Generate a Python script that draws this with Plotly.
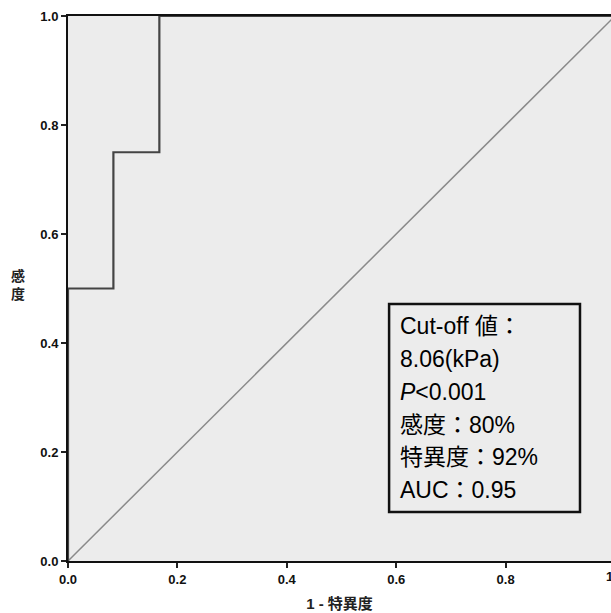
import plotly.graph_objects as go

# ROC data
fpr = [0.0, 0.0, 0.083, 0.167, 1.0]
tpr = [0.0, 0.5, 0.75, 1.0, 1.0]
ref_x = [0.0, 1.0]
ref_y = [0.0, 1.0]
tick_vals = [0.0, 0.2, 0.4, 0.6, 0.8, 1.0]
tick_text = ["0.0", "0.2", "0.4", "0.6", "0.8", "1.0"]
box_lines = ["Cut-off 値：", "8.06(kPa)", "<i>P</i>&lt;0.001", "感度：80%", "特異度：92%", "AUC：0.95"]

W, H = 611, 613
L, R, T, B = 68, 0, 16, 52
plot_w = W - L - R
unit = 547.0
xmax = plot_w / unit

font_tick = "Liberation Sans Narrow, Liberation Sans, Arial, sans-serif"
font_cjk = "Liberation Sans, Noto Sans CJK JP, sans-serif"

fig = go.Figure()
fig.add_trace(go.Scatter(x=ref_x, y=ref_y, mode="lines",
                         line=dict(color="#8a8a8a", width=1.5), hoverinfo="skip"))
fig.add_trace(go.Scatter(x=fpr, y=tpr, mode="lines", line_shape="hv",
                         line=dict(color="#444444", width=2.2), hoverinfo="skip"))

# text box
fig.add_shape(type="rect", xref="x", yref="y", x0=0.587, x1=0.936, y0=0.090, y1=0.4716,
              line=dict(color="#111111", width=2.5), fillcolor="rgba(0,0,0,0)")
line_y = [0.431, 0.371, 0.310, 0.2495, 0.191, 0.130]
for txt, yy in zip(box_lines, line_y):
    fig.add_annotation(x=0.603, y=yy, xref="x", yref="y", text=txt, showarrow=False,
                       xanchor="left", yanchor="middle",
                       font=dict(size=23, color="#000000", family=font_cjk))

bold_ticks = ["<b>%s</b>" % t for t in tick_text]

# tick label 1.0 partly off-canvas, as in the reference
fig.add_annotation(x=1.0 / xmax, y=0, xref="paper", yref="paper", yshift=-6,
                   text=bold_ticks[-1], showarrow=False, xanchor="center", yanchor="top",
                   font=dict(size=13, color="#111111", family=font_tick))

fig.update_xaxes(range=[0, xmax], tickvals=tick_vals[:-1], ticktext=bold_ticks[:-1],
                 ticks="outside", ticklen=5, tickwidth=1.5, tickcolor="#222222",
                 showline=True, linecolor="#111111", linewidth=2, mirror=True,
                 showgrid=False, zeroline=False,
                 tickfont=dict(size=13, color="#111111", family=font_tick),
                 title=dict(text="<b>1 - 特異度</b>", font=dict(size=15, color="#222222", family=font_cjk),
                            standoff=13))
fig.update_yaxes(range=[0, 1], tickvals=tick_vals, ticktext=bold_ticks,
                 ticks="outside", ticklen=5, tickwidth=1.5, tickcolor="#222222",
                 showline=True, linecolor="#111111", linewidth=2,
                 showgrid=False, zeroline=False,
                 tickfont=dict(size=13, color="#111111", family=font_tick))

fig.add_annotation(x=(18 - L) / plot_w, y=0.506, xref="paper", yref="paper", text="<b>感<br>度</b>",
                   showarrow=False, xanchor="center", yanchor="middle",
                   font=dict(size=14, color="#222222", family=font_cjk))

fig.update_layout(width=W, height=H, margin=dict(l=L, r=R, t=T, b=B, autoexpand=False),
                  plot_bgcolor="#ececec", paper_bgcolor="white", showlegend=False)

fig.write_html("out.html", config={"displayModeBar": False},
               post_script="document.body.style.margin='0';document.body.style.overflow='hidden';")
